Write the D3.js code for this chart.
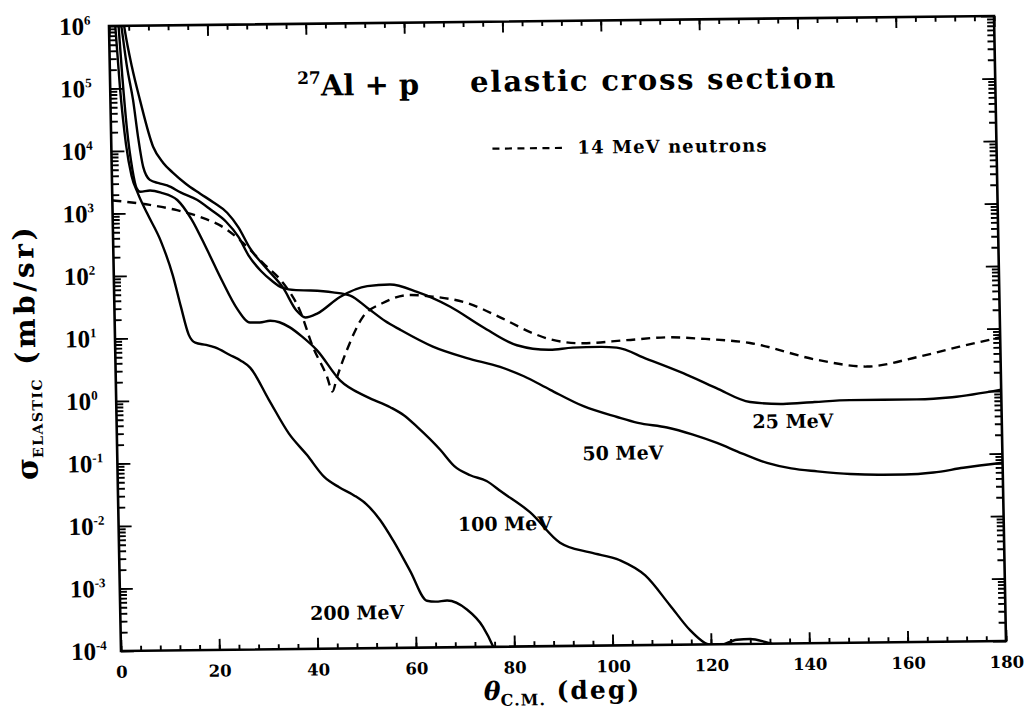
<!DOCTYPE html>
<html>
<head>
<meta charset="utf-8">
<script src="https://cdn.jsdelivr.net/npm/d3@7"></script>
<style>
  body { margin: 0; background: #fff; }
  svg { display: block; }
</style>
</head>
<body>
<svg id="chart" width="1029" height="714"></svg>
<script>
// 27Al + p elastic differential cross sections (mb/sr) vs C.M. angle (deg)
const angle25 = [2.5, 3.2, 4.5, 6.0, 8.5, 10.5, 12.4, 15, 17.9, 20.5, 23.3, 25.5, 27.8, 31, 34.4, 37, 38.8, 41.2, 45.9, 51.5, 56.1, 61.6, 68.3, 74.9, 81.7, 88.4, 93, 98.6, 102, 108, 115.4, 122, 128.9, 135.6, 142, 149.2, 162.8, 170, 180];
const sigma25 = [2.3e6, 8.5e5, 2.2e5, 6.5e4, 1.15e4, 6.3e3, 4.4e3, 2.9e3, 2.0e3, 1.45e3, 980, 575, 263, 126, 60, 26, 20, 23, 42, 62, 65, 49, 28, 13, 6.6, 5.5, 5.9, 6.0, 5.8, 3.8, 2.2, 1.26, 0.74, 0.68, 0.72, 0.76, 0.76, 0.81, 1.05];

const angle50 = [2.2, 2.6, 3.5, 4.6, 5.5, 6.4, 7.7, 9.5, 11.2, 14, 17.2, 20, 23, 25.5, 27.5, 30, 32, 34.3, 37, 40, 44.5, 48, 51.4, 55, 58, 64.6, 71.5, 78.2, 83, 88.3, 95, 101.8, 106, 111.9, 117, 122, 127, 132.1, 137, 142.3, 149, 155.7, 160, 165.9, 172, 180];
const sigma50 = [1.6e6, 8.7e5, 2.2e5, 6.5e4, 1.6e4, 5.5e3, 3.4e3, 3.0e3, 2.75e3, 2.1e3, 1.6e3, 1.1e3, 710, 400, 200, 112, 80, 60, 55, 54, 50, 44, 28, 17, 12.3, 6.5, 4.2, 3.0, 2.1, 1.26, 0.68, 0.45, 0.36, 0.30, 0.23, 0.166, 0.112, 0.078, 0.063, 0.056, 0.050, 0.048, 0.048, 0.051, 0.060, 0.071];

const angle100 = [1.8, 2.5, 3.2, 4.2, 5.0, 5.7, 7.7, 10, 13.2, 16, 19.1, 22, 25, 27.5, 29.5, 31.6, 33.5, 35.6, 38, 41, 45.6, 51, 55.7, 58.5, 61.1, 65.7, 68.5, 71.7, 75, 78, 83.7, 89.7, 95.8, 101.8, 106.9, 111.8, 115.8, 118.8, 121, 125.3, 128, 131, 134];
const sigma100 = [1.6e6, 1.6e5, 2.5e4, 5.0e3, 2.5e3, 2.2e3, 2.3e3, 2.1e3, 1.6e3, 790, 250, 80, 28, 17, 17, 18, 17, 14, 10, 6.0, 1.95, 1.05, 0.71, 0.52, 0.34, 0.145, 0.079, 0.056, 0.045, 0.030, 0.014, 0.0045, 0.0031, 0.0023, 0.0013, 4.3e-4, 1.7e-4, 1.05e-4, 9.3e-5, 1.17e-4, 1.2e-4, 1.07e-4, 8.9e-5];

const angle200 = [1.2, 2, 3, 4, 5.2, 7, 9.7, 12, 13.5, 15, 16.3, 18.5, 20.3, 23.3, 25.5, 27.4, 31, 35, 38.6, 42, 45, 48, 50.5, 53.2, 55.8, 59.1, 62.4, 64.2, 66.5, 70.5, 73.7, 75.7, 77];
const sigma200 = [1.26e6, 1e5, 1.26e4, 4.0e3, 2.1e3, 1.0e3, 355, 100, 32, 11.2, 8.3, 7.6, 6.9, 5.2, 4.2, 3.2, 1.0, 0.28, 0.126, 0.056, 0.038, 0.028, 0.020, 0.0112, 0.0052, 0.0017, 5.6e-4, 5.4e-4, 5.6e-4, 4.0e-4, 2.1e-4, 1.0e-4, 5e-5];

// 14 MeV neutrons on 27Al, for comparison
const angleN14 = [0, 7.6, 13.1, 17.8, 23.2, 25.8, 30.4, 34.4, 37.7, 40.2, 43, 44, 45, 47.1, 50.5, 54.6, 60.2, 64.8, 71.7, 78.4, 85, 88.5, 95.2, 104, 112.3, 119, 129.1, 142.7, 152.8, 163, 171.7, 180];
const sigmaN14 = [1620, 1350, 1100, 850, 525, 355, 151, 72, 26, 6.8, 2.2, 1.3, 2.2, 5.9, 20, 33, 44, 41, 32, 18.6, 10.2, 8.1, 6.9, 7.6, 8.3, 7.8, 6.5, 3.4, 2.6, 3.6, 5.2, 7.2];

const curveLabels = ["25 MeV", "50 MeV", "100 MeV", "200 MeV"];
const xTickValues = [0, 20, 40, 60, 80, 100, 120, 140, 160, 180];
const yTickExponents = [6, 5, 4, 3, 2, 1, 0, -1, -2, -3, -4];

const series = [
  { label: curveLabels[0], angle: angle25, sigma: sigma25, at: [129.3, 0.28] },
  { label: curveLabels[1], angle: angle50, sigma: sigma50, at: [94.6, 0.093] },
  { label: curveLabels[2], angle: angle100, sigma: sigma100, at: [69.0, 0.0072] },
  { label: curveLabels[3], angle: angle200, sigma: sigma200, at: [38.6, 2.9e-4] }
];

const W = 885, H = 625;
const svg = d3.select("#chart");
// the printed figure sits slightly askew on the page
const page = svg.append("g").attr("transform", "matrix(1,-0.0113,0.0192,1,-0.5,1.23)");
const plot = page.append("g").attr("transform", "translate(109,26)");

const x = d3.scaleLinear().domain([0, 180]).range([0, W]);
const y = d3.scaleLog().domain([1e-4, 1e6]).range([H, 0]);

const serif = "'DejaVu Serif', serif";

plot.append("clipPath").attr("id", "plotclip")
  .append("rect").attr("width", W).attr("height", H);

// ticks
const xMinor = d3.range(0, 181, 4);
const yMinor = [];
yTickExponents.forEach(e => { for (let k = 2; k <= 9; k++) if (e < 6) yMinor.push(k * Math.pow(10, e)); });
const yMajor = yTickExponents.map(e => Math.pow(10, e));

function styleTicks(g) {
  g.select(".domain").remove();
  g.selectAll(".tick line").attr("stroke", "#000").attr("stroke-width", 1.9);
}

plot.append("g").attr("transform", `translate(0,${H})`)
  .call(d3.axisBottom(x).tickValues(xMinor).tickSize(-5).tickFormat(""))
  .call(styleTicks);
const xAx = plot.append("g").attr("transform", `translate(0,${H})`)
  .call(d3.axisBottom(x).tickValues(xTickValues).tickSize(-11).tickPadding(15).tickFormat(d3.format("d")))
  .call(styleTicks);
xAx.selectAll("text").attr("font-family", serif).attr("font-weight", "bold")
  .attr("font-size", 16.5).attr("fill", "#000");

plot.append("g")
  .call(d3.axisTop(x).tickValues(xMinor).tickSize(-5).tickFormat(""))
  .call(styleTicks);
plot.append("g")
  .call(d3.axisTop(x).tickValues(xTickValues).tickSize(-11).tickFormat(""))
  .call(styleTicks);

plot.append("g")
  .call(d3.axisLeft(y).tickValues(yMinor).tickSize(-7).tickFormat(""))
  .call(styleTicks);
plot.append("g")
  .call(d3.axisLeft(y).tickValues(yMajor).tickSize(-13).tickFormat(""))
  .call(styleTicks);
plot.append("g").attr("transform", `translate(${W},0)`)
  .call(d3.axisRight(y).tickValues(yMinor).tickSize(-7).tickFormat(""))
  .call(styleTicks);
plot.append("g").attr("transform", `translate(${W},0)`)
  .call(d3.axisRight(y).tickValues(yMajor).tickSize(-13).tickFormat(""))
  .call(styleTicks);

// y tick labels 10^n
const yl = plot.selectAll(".ylab").data(yTickExponents).join("text")
  .attr("class", "ylab")
  .attr("x", -50).attr("y", d => y(Math.pow(10, d)) + 8.5)
  .attr("font-family", "'Liberation Serif', serif").attr("font-weight", "bold")
  .attr("font-size", 25).attr("fill", "#000");
yl.append("tspan").text("10");
yl.append("tspan").attr("dy", -10).attr("font-size", 13).text(d => d < 0 ? "-" + Math.abs(d) : String(d));

// frame
plot.append("rect").attr("width", W).attr("height", H)
  .attr("fill", "none").attr("stroke", "#000").attr("stroke-width", 2.6);

// curves
const line = d3.line()
  .x(d => x(d[0])).y(d => y(d[1]))
  .curve(d3.curveMonotoneX);
const curves = plot.append("g").attr("clip-path", "url(#plotclip)");

series.forEach(s => {
  curves.append("path")
    .datum(s.angle.map((a, i) => [a, s.sigma[i]]))
    .attr("d", line)
    .attr("fill", "none").attr("stroke", "#000").attr("stroke-width", 2.4)
    .attr("stroke-linejoin", "round");
});
curves.append("path")
  .datum(angleN14.map((a, i) => [a, sigmaN14[i]]))
  .attr("d", line)
  .attr("fill", "none").attr("stroke", "#000").attr("stroke-width", 2.4)
  .attr("stroke-dasharray", "9,6");

// curve labels
series.forEach(s => {
  plot.append("text")
    .attr("x", x(s.at[0])).attr("y", y(s.at[1]))
    .attr("font-family", serif).attr("font-weight", "bold")
    .attr("font-size", 19).attr("fill", "#000")
    .text(s.label);
});

// title
const title = plot.append("text").attr("x", 187).attr("y", 72)
  .attr("font-family", serif).attr("font-weight", "bold").attr("font-size", 29).attr("fill", "#000");
title.append("tspan").attr("font-size", 17).attr("dy", -12).text("27");
title.append("tspan").attr("dy", 12).text("Al + p");
plot.append("text").attr("x", 360).attr("y", 70)
  .attr("font-family", serif).attr("font-weight", "bold").attr("font-size", 29).attr("fill", "#000")
  .attr("textLength", 365).attr("lengthAdjust", "spacing")
  .text("elastic cross section");

// legend
plot.append("line").attr("x1", 381).attr("x2", 452).attr("y1", 127).attr("y2", 127)
  .attr("stroke", "#000").attr("stroke-width", 2.2).attr("stroke-dasharray", "7,5.5");
plot.append("text").attr("x", 466).attr("y", 133)
  .attr("font-family", serif).attr("font-weight", "bold").attr("font-size", 18).attr("fill", "#000")
  .attr("textLength", 189).attr("lengthAdjust", "spacing")
  .text("14 MeV neutrons");

// axis titles
const xt = plot.append("text").attr("x", 362).attr("y", 678)
  .attr("font-family", serif).attr("font-weight", "bold").attr("font-size", 25).attr("fill", "#000");
xt.append("tspan").attr("font-style", "italic").text("θ");
xt.append("tspan").attr("font-size", 16).attr("dy", 6).attr("letter-spacing", 1).text("C.M.");
xt.append("tspan").attr("dy", -6).attr("letter-spacing", 2).text(" (deg)");

const yt = plot.append("text")
  .attr("transform", "translate(-80,325) rotate(-90)")
  .attr("text-anchor", "middle")
  .attr("font-family", serif).attr("font-weight", "bold").attr("font-size", 28).attr("fill", "#000");
yt.append("tspan").attr("font-size", 30).text("σ");
yt.append("tspan").attr("font-size", 14).attr("dy", 6).attr("letter-spacing", 1.5).text("ELASTIC");
yt.append("tspan").attr("dy", -6).attr("letter-spacing", 3.5).text(" (mb/sr)");
</script>
</body>
</html>
